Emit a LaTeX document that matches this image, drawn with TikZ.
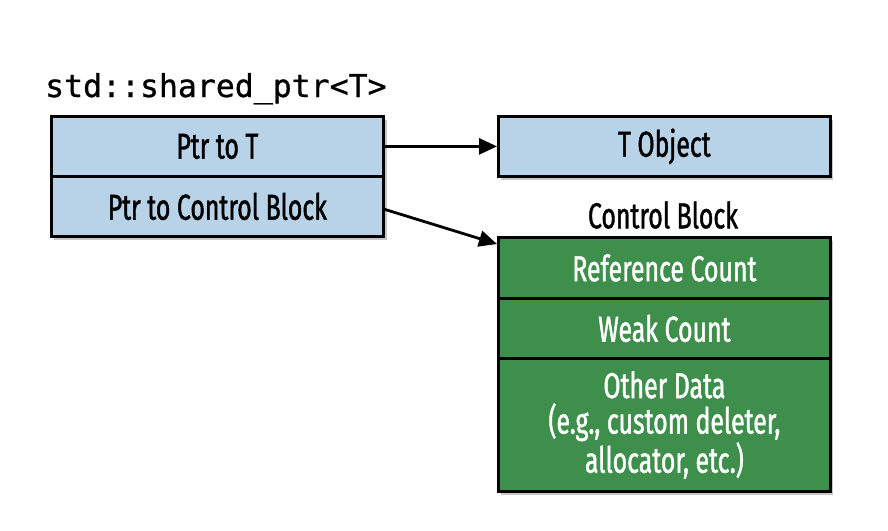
\documentclass[tikz,border=0pt]{standalone}
\usepackage{fontspec}
\setmainfont{Fira Sans}[FakeStretch=0.69,FakeBold=1.2]
\newfontfamily\monof{DejaVu Sans Mono}[FakeBold=0.8]
\usetikzlibrary{arrows.meta}
\definecolor{ptrblue}{RGB}{184,210,232}
\definecolor{cbgreen}{RGB}{62,143,76}
\tikzset{
  x=1pt,y=-1pt,
  cell/.style={draw=black,line width=2.8pt,minimum width=332pt,inner sep=0pt,align=center,
    font=\fontsize{36}{35.5}\selectfont},
  bluecell/.style={cell,fill=ptrblue,text=black,minimum height=60pt},
  greencell/.style={cell,fill=cbgreen,text=white},
  shadowbox/.style={fill=black,opacity=0.22},
  ptrarrow/.style={line width=2.8pt,-{Triangle[length=18pt,width=16pt]}},
}
\begin{document}
\begin{tikzpicture}
\useasboundingbox (0,0) rectangle (888,530);
% shadows
\fill[shadowbox] (54,120) rectangle (387,240);
\fill[shadowbox] (501,120) rectangle (833,180);
\fill[shadowbox] (501,241) rectangle (833,495);
\node[font=\monof\fontsize{31.5}{34}\selectfont,anchor=base west,inner sep=0pt] (title) at (45,97) {std::shared\_ptr<T>};
\node[bluecell,anchor=north west] (ptrT) at (50,115) {Ptr to T};
\node[bluecell,anchor=north west] (ptrCB) at (50,175) {Ptr to Control Block};
\node[bluecell,anchor=north west] (tobj) at (497,115) {T Object};
\node[font=\fontsize{36}{35}\selectfont] (cblabel) at (663,215) {Control Block};
\node[greencell,minimum height=61pt,anchor=north west] (ref) at (497,236) {Reference Count};
\node[greencell,minimum height=60pt,anchor=north west] (weak) at (497,297) {Weak Count};
\node[greencell,minimum height=133pt,anchor=north west] (other) at (497,357) {Other Data\\(e.g., custom deleter,\\allocator, etc.)};
\draw[ptrarrow] (ptrT.east) -- (tobj.west);
\draw[ptrarrow] ([yshift=-3pt]ptrCB.east) -- ([yshift=-8pt]ref.north west);
\end{tikzpicture}
\end{document}
